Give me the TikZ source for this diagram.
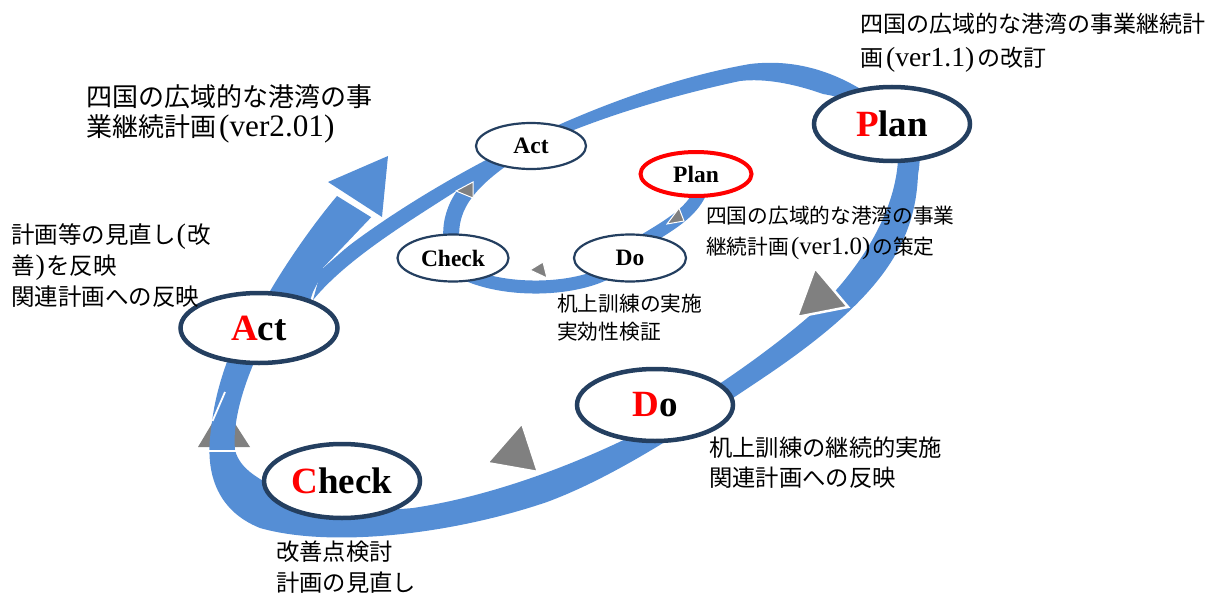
\documentclass[tikz,border=0pt]{standalone}
\usepackage{fontspec}
\setmainfont{Liberation Serif}
\newfontfamily\jpfont{Noto Sans CJK JP}
\newfontfamily\latfont{Liberation Serif}[Scale=1.2]
\usetikzlibrary{shapes.geometric}
\definecolor{bandblue}{RGB}{85,142,213}
\definecolor{edgenavy}{RGB}{36,63,96}
\definecolor{trigray}{RGB}{128,128,128}
\newcommand\mylat[1]{{\latfont #1}}
\begin{document}
\begin{tikzpicture}[x=1pt,y=-1pt,
  outerE/.style={ellipse, draw=edgenavy, line width=4.5pt, fill=white, inner sep=0pt,
    font=\bfseries\fontsize{37}{37}\selectfont},
  innerE/.style={ellipse, draw=edgenavy, line width=2.2pt, fill=white, inner sep=0pt,
    font=\bfseries\fontsize{23.5}{23.5}\selectfont},
  jp/.style={font=\jpfont\fontsize{#1}{#1}\selectfont, inner sep=0pt, anchor=base west},
  gtri/.style={fill=trigray, draw=white, line width=2.5pt, line join=miter},
  stri/.style={fill=trigray, draw=white, line width=1pt, line join=miter},
  ring/.style={draw=bandblue, line cap=butt}
]
\useasboundingbox (0,0) rectangle (1221,594);

% gray arrowhead behind the left band
\fill[trigray] (198,447) -- (223,405) -- (250,447) -- cycle;

% main outer band (outer edge clockwise, then inner edge back)
\fill[bandblue] (322,267) .. controls (420,185) and (600,90) .. (750,64)
  .. controls (800,58) and (840,75) .. (870,95)
  .. controls (925,110) and (922,150) .. (918,175)
  .. controls (915,245) and (880,300) .. (760,380)
  .. controls (700,420) and (620,475) .. (547,502)
  .. controls (450,535) and (330,548) .. (260,528)
  .. controls (215,510) and (205,470) .. (211,430)
  .. controls (214,400) and (222,370) .. (240,330)
  -- (262,345)
  .. controls (245,380) and (232,420) .. (235,450)
  .. controls (240,470) and (260,480) .. (290,495)
  .. controls (330,512) and (370,512) .. (413,508)
  .. controls (480,498) and (560,472) .. (640,432)
  .. controls (700,400) and (780,345) .. (827,300)
  .. controls (865,260) and (895,210) .. (898,160)
  .. controls (900,120) and (860,100) .. (823,94)
  .. controls (795,84) and (765,78) .. (740,81)
  .. controls (660,98) and (545,132) .. (470,182)
  .. controls (420,215) and (350,255) .. (313,300)
  -- cycle;

% wide band from Act to the big arrowhead
\fill[bandblue] (250,330) .. controls (262,300) and (300,240) .. (337,196) -- (366,214) -- (374,219)
  .. controls (350,243) and (325,265) .. (313,292) -- (300,330) -- cycle;
\fill[bandblue] (328,182) -- (388,156) -- (382,217) -- cycle;

% white slivers
\fill[white] (323,268) -- (374,214.5) -- (379,219) -- cycle;
\draw[white, line width=1.8pt] (212.5,421) -- (225,392);
\draw[white, line width=2pt] (209,451) -- (236,451);

% inner cycle band
\draw[ring, line width=13pt] (702,188) .. controls (694,210) and (675,222) .. (645,240);
\draw[ring, line width=13pt] (615,268) .. controls (580,292) and (500,294) .. (458,270);
\draw[ring, line width=16pt] (452,245) .. controls (447,210) and (465,185) .. (505,157);

% gray arrowheads
\filldraw[gtri] (815,268) -- (797,317) -- (848,307) -- cycle;
\filldraw[gtri] (522,423) -- (487,463) -- (538,472) -- cycle;
\filldraw[stri] (473,182) -- (456,191) -- (473,198) -- cycle;
\filldraw[stri] (679,208) -- (667,224) -- (684,221) -- cycle;
\filldraw[stri] (543,262) -- (530,270) -- (547,278) -- cycle;

% outer PDCA nodes
\node[outerE, minimum width=156pt, minimum height=74pt] (plan) at (892,124) {\textcolor{red}{P}lan};
\node[outerE, minimum width=156pt, minimum height=72pt] (do) at (655,405) {\textcolor{red}{D}o};
\node[outerE, minimum width=156pt, minimum height=74pt] (check) at (342,481) {\textcolor{red}{C}heck};
\node[outerE, minimum width=157pt, minimum height=70pt] (act) at (259,328) {\textcolor{red}{A}ct};

% inner PDCA nodes
\node[innerE, minimum width=110pt, minimum height=46pt] (iact) at (531,146) {Act};
\node[innerE, draw=red, line width=4pt, minimum width=111pt, minimum height=44pt] (iplan) at (696,174) {Plan};
\node[innerE, minimum width=111pt, minimum height=47pt] (icheck) at (453,258) {Check};
\node[innerE, minimum width=112pt, minimum height=47pt] (ido) at (630,258) {Do};

% texts
\node[jp=23] (tr1) at (860,32.5) {四国の広域的な港湾の事業継続計};
\node[jp=23] (tr2) at (860,66.5) {画\kern3pt\mylat{(ver1.1)}\kern3pt の改訂};
\node[jp=26] (tl1) at (86,106.6) {四国の広域的な港湾の事};
\node[jp=26] (tl2) at (86,136.6) {業継続計画\kern3pt\mylat{(ver2.01)}};
\node[jp=23.5] (lm1) at (11,243.7) {計画等の見直し\kern1pt\mylat{(}\kern1pt改};
\node[jp=23.5] (lm2) at (11,274.7) {善\kern1pt\mylat{)}\kern1pt を反映};
\node[jp=23.5] (lm3) at (11,305.7) {関連計画への反映};
\node[jp=20.7] (ip1) at (706,223.7) {四国の広域的な港湾の事業};
\node[jp=20.7] (ip2) at (706,254.7) {継続計画\kern2pt\mylat{(ver1.0)}\kern2pt の策定};
\node[jp=20.7] (id1) at (557,311.7) {机上訓練の実施};
\node[jp=20.7] (id2) at (557,339.7) {実効性検証};
\node[jp=23.3] (do1) at (709,456.6) {机上訓練の継続的実施};
\node[jp=23.3] (do2) at (709,486.6) {関連計画への反映};
\node[jp=23.3] (ck1) at (276,560.6) {改善点検討};
\node[jp=23.3] (ck2) at (276,591.6) {計画の見直し};
\end{tikzpicture}
\end{document}
